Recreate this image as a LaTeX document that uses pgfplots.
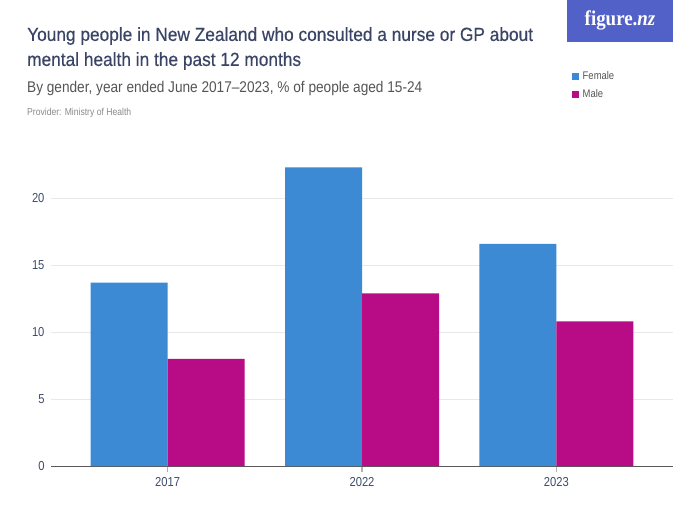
\documentclass[border=0pt]{standalone}
\usepackage{fontspec}
\setmainfont{Liberation Sans}
\newfontfamily\condfont[FakeStretch=0.86, Ligatures=TeX]{Liberation Sans}
\newfontfamily\subfont[FakeStretch=0.88, Ligatures=TeX]{Liberation Sans}
\newfontfamily\titlefont[FakeStretch=0.91, FakeBold=0.4, Ligatures=TeX]{Liberation Sans}
\newfontfamily\logofont[FakeStretch=0.9]{Liberation Serif}
\usepackage{pgfplots}
\pgfplotsset{compat=1.18}
\definecolor{female}{HTML}{3B8AD3}
\definecolor{male}{HTML}{B80C86}
\definecolor{logoblue}{HTML}{5161C7}
\definecolor{titlecol}{HTML}{3A4566}
\definecolor{subcol}{HTML}{555555}
\definecolor{provcol}{HTML}{8A8A8A}
\definecolor{tickcol}{HTML}{3D4B6B}
\begin{document}
\begin{tikzpicture}
\useasboundingbox (0pt,0pt) rectangle (700pt,525pt);
\fill[white] (0pt,0pt) rectangle (700pt,525pt);
\fill[logoblue] (567pt,483pt) rectangle (673pt,525pt);
\node[white, font=\logofont\fontsize{21}{24}\selectfont\bfseries] at (620pt,505pt) {figure.\textit{nz}};
\node[anchor=west, inner sep=0pt, text=titlecol, font=\titlefont\fontsize{19}{25}\selectfont] at (27pt,489pt) {Young people in New Zealand who consulted a nurse or GP about};
\node[anchor=west, inner sep=0pt, text=titlecol, font=\titlefont\fontsize{19}{25}\selectfont] at (27pt,464pt) {mental health in the past 12 months};
\node[anchor=west, inner sep=0pt, text=subcol, font=\subfont\fontsize{15.5}{18}\selectfont] at (27pt,437pt) {By gender, year ended June 2017–2023, \% of people aged 15-24};
\node[anchor=west, inner sep=0pt, text=provcol, font=\condfont\fontsize{10}{12}\selectfont] at (27pt,412pt) {Provider: Ministry of Health};
\begin{axis}[
  at={(51pt,59pt)}, anchor=south west,
  scale only axis, width=622pt, height=328pt,
  ybar=0pt, bar width=77pt,
  xmin=-0.6, xmax=2.6, ymin=0, ymax=24.5,
  xtick={0,1,2}, xticklabels={2017,2022,2023},
  ytick={0,5,10,15,20},
  /pgf/number format/assume math mode=true,
  axis x line*=bottom, axis y line*=left,
  y axis line style={draw=none},
  x axis line style={draw=gray!70!black, line width=1pt},
  ytick style={draw=none},
  xtick style={draw=gray!60, line width=1.5pt},
  xtick align=outside, major tick length=6pt,
  ymajorgrids, grid style={draw=gray!18, line width=1pt},
  tick label style={text=tickcol, font=\condfont\fontsize{13}{15}\selectfont},
  yticklabel style={xshift=-3pt},
  xticklabel style={yshift=-2pt},
  legend style={at={(rel axis cs:0.832,1.216)}, anchor=north west, draw=none, fill=none,
    font=\condfont\fontsize{11}{13}\selectfont, text=subcol, row sep=5pt,
    legend cell align=left,
    nodes={inner xsep=4pt}},
  legend image code/.code={\fill[#1, draw=none] (0pt,-3.5pt) rectangle (7pt,3.5pt);},
]
\addplot[fill=female, draw=none] coordinates {(0,13.7) (1,22.3) (2,16.6)};
\addplot[fill=male, draw=none] coordinates {(0,8.0) (1,12.9) (2,10.8)};
\legend{Female, Male}
\end{axis}
\end{tikzpicture}
\end{document}
